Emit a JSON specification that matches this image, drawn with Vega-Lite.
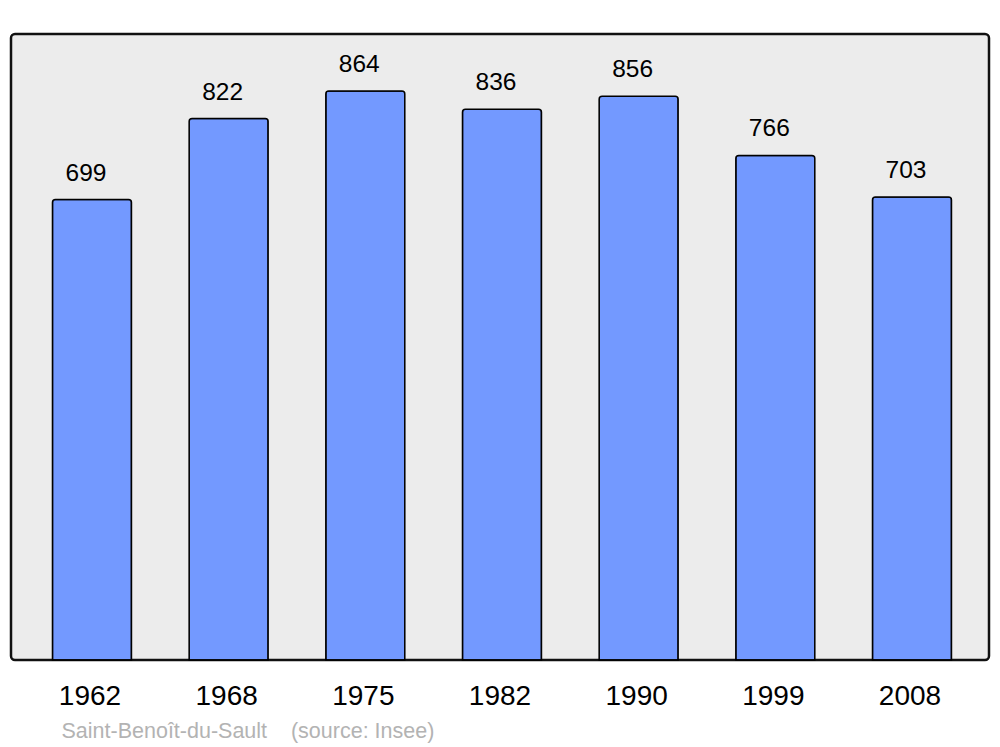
{
  "$schema": "https://vega.github.io/schema/vega-lite/v6.json",
  "width": 978,
  "height": 626,
  "autosize": {"type": "none"},
  "padding": {"left": 11, "top": 34, "right": 11, "bottom": 87},
  "background": "white",
  "config": {
    "view": {"fill": "#ececec", "stroke": "#111111", "strokeWidth": 2.5, "cornerRadius": 4},
    "font": "Liberation Sans"
  },
  "data": {
    "values": [
      {"year": "1962", "pop": 699},
      {"year": "1968", "pop": 822},
      {"year": "1975", "pop": 864},
      {"year": "1982", "pop": 836},
      {"year": "1990", "pop": 856},
      {"year": "1999", "pop": 766},
      {"year": "2008", "pop": 703}
    ]
  },
  "encoding": {
    "x": {
      "field": "year",
      "type": "ordinal",
      "sort": null,
      "scale": {"paddingInner": 0.422, "paddingOuter": 0.289, "align": 0.525},
      "axis": {
        "domain": false,
        "ticks": false,
        "labelAngle": 0,
        "labelFont": "Liberation Sans",
        "labelFontSize": 28,
        "labelColor": "#000000",
        "labelPadding": 22,
        "labelBaseline": "top",
        "labelOffset": -2,
        "title": "Saint-Benoît-du-Sault\u00a0\u00a0\u00a0\u00a0(source: Insee)",
        "titleFont": "Liberation Sans",
        "titleFontSize": 21.5,
        "titleFontWeight": "normal",
        "titleColor": "#b3b3b3",
        "titleAnchor": "start",
        "titleAlign": "left",
        "titleBaseline": "alphabetic",
        "titleX": 50,
        "titleY": 77
      }
    },
    "y": {
      "field": "pop",
      "type": "quantitative",
      "scale": {"domain": [0, 950.4], "nice": false, "zero": true},
      "axis": null
    }
  },
  "layer": [
    {
      "mark": {
        "type": "bar",
        "fill": "#7399ff",
        "stroke": "#000000",
        "strokeWidth": 1.5,
        "cornerRadiusTopLeft": 3,
        "cornerRadiusTopRight": 3
      }
    },
    {
      "mark": {
        "type": "text",
        "font": "Liberation Sans",
        "fontSize": 24.5,
        "color": "#000000",
        "baseline": "alphabetic",
        "align": "center",
        "dy": -19,
        "dx": -6
      },
      "encoding": {"text": {"field": "pop", "type": "quantitative"}}
    }
  ]
}
